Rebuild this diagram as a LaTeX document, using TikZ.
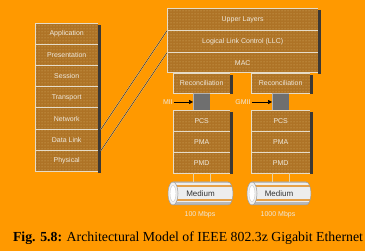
\documentclass[tikz,border=0pt]{standalone}
\usepackage{fontspec}
\setmainfont{Liberation Serif}
\newfontfamily\lblfont{Liberation Sans}
\usetikzlibrary{patterns,arrows.meta}
\definecolor{bg}{HTML}{FF9900}
\definecolor{boxb}{HTML}{AE7326}
\definecolor{dotc}{HTML}{DDB46E}
\definecolor{lbl}{HTML}{EEE8DC}
\definecolor{hl}{HTML}{E6DCC8}
\definecolor{shd}{HTML}{3C3833}
\definecolor{port}{HTML}{6F6F6F}
\definecolor{diagdark}{HTML}{4A3010}
\definecolor{diaglight}{HTML}{E8D0A0}
\definecolor{cabbase}{HTML}{EDEDED}
\definecolor{cabor}{HTML}{E5A048}
\definecolor{cabedge}{HTML}{9A9A9A}
\begin{document}
\begin{tikzpicture}[x=1pt,y=-1pt,
  layer/.style={preaction={fill=boxb}, pattern=dots, pattern color=dotc,
    inner sep=0pt, anchor=north west, font=\lblfont\fontsize{7}{8}\selectfont, text=lbl},
  portbox/.style={fill=port, inner sep=0pt, anchor=north west, minimum width=17pt, minimum height=17pt},
  hlline/.style={draw=hl, line width=0.9pt},
  shadowline/.style={draw=shd, line width=2.5pt},
  diag/.style={draw=diaglight, line width=0.35pt, double=diagdark, double distance=0.55pt},
  plbl/.style={font=\lblfont\fontsize{7}{8}\selectfont, text=lbl, inner sep=1pt},
  arr/.style={draw=black, line width=0.5pt, -{Triangle[length=4pt,width=4pt]}},
  conn/.style={draw=diaglight, line width=0.6pt},
  medtext/.style={font=\lblfont\fontsize{8}{9}\selectfont, text=black!80, inner sep=0pt},
  speed/.style={font=\lblfont\fontsize{7}{8}\selectfont, text=lbl}
]
\useasboundingbox (0,0) rectangle (365,251);
\fill[bg] (0,0) rectangle (365,251);

% OSI stack
\node[layer, minimum width=63pt, minimum height=21.2pt] (app) at (35,23) {Application};
\node[layer, minimum width=63pt, minimum height=21.2pt] (pre) at (35,44.2) {Presentation};
\node[layer, minimum width=63pt, minimum height=21.2pt] (ses) at (35,65.4) {Session};
\node[layer, minimum width=63pt, minimum height=21.2pt] (tra) at (35,86.6) {Transport};
\node[layer, minimum width=63pt, minimum height=21.2pt] (net) at (35,107.8) {Network};
\node[layer, minimum width=63pt, minimum height=21.2pt] (dl)  at (35,129) {Data Link};
\node[layer, minimum width=63pt, minimum height=21.2pt] (phy) at (35,150.2) {Physical};

% upper right stack
\node[layer, minimum width=151pt, minimum height=22.3pt] (ul)  at (167,8) {Upper Layers};
\node[layer, minimum width=151pt, minimum height=22pt]   (llc) at (167,30.3) {Logical Link Control (LLC)};
\node[layer, minimum width=151pt, minimum height=20.2pt] (mac) at (167,52.3) {MAC};

% reconciliation
\node[layer, minimum width=57pt, minimum height=20pt] (recl) at (173,73) {Reconciliation};
\node[layer, minimum width=59pt, minimum height=20pt] (recr) at (251,73) {Reconciliation};

% ports
\node[portbox] (pl) at (193,93) {};
\node[portbox] (pr) at (272,93) {};

% lower stacks
\node[layer, minimum width=57pt, minimum height=21pt] (pcsl) at (173,110) {PCS};
\node[layer, minimum width=57pt, minimum height=21pt] (pmal) at (173,131) {PMA};
\node[layer, minimum width=57pt, minimum height=21pt] (pmdl) at (173,152) {PMD};
\node[layer, minimum width=59pt, minimum height=21pt] (pcsr) at (251,110) {PCS};
\node[layer, minimum width=59pt, minimum height=21pt] (pmar) at (251,131) {PMA};
\node[layer, minimum width=59pt, minimum height=21pt] (pmdr) at (251,152) {PMD};

% highlights
\foreach \n in {app,pre,ses,tra,net,dl,phy,ul,llc,mac,recl,recr,pcsl,pmal,pmdl,pcsr,pmar,pmdr}
  \draw[hlline] (\n.south west) -- (\n.north west) -- (\n.north east);
\foreach \n in {phy,mac,recl,recr,pmdl,pmdr}
  \draw[hlline] (\n.south west) -- (\n.south east);
\foreach \n in {pl,pr}
  \draw[draw=gray!60, line width=0.6pt] (\n.south west) -- (\n.north west) -- (\n.north east);

% shadows
\draw[shadowline] ([shift={(1.25,2)}]app.north east) -- ([shift={(1.25,1)}]phy.south east);
\draw[shadowline] ([shift={(1.25,2)}]ul.north east) -- ([shift={(1.25,1)}]mac.south east);
\draw[shadowline] ([shift={(1.25,2)}]recl.north east) -- ([shift={(1.25,1)}]recl.south east);
\draw[shadowline] ([shift={(1.25,2)}]recr.north east) -- ([shift={(1.25,1)}]recr.south east);
\draw[shadowline] ([shift={(1.25,2)}]pcsl.north east) -- ([shift={(1.25,1)}]pmdl.south east);
\draw[shadowline] ([shift={(1.25,2)}]pcsr.north east) -- ([shift={(1.25,1)}]pmdr.south east);

% diagonal mapping lines
\draw[diag] (ul.south west) -- ([shift={(2.5,0)}]net.south east);
\draw[diag] (llc.south west) -- ([shift={(2.5,0)}]dl.south east);

% MII / GMII
\node[plbl, anchor=center] (mii) at (168,102) {MII};
\node[plbl, anchor=center] (gmii) at (243,102) {GMII};
\draw[arr] (mii.east) -- (pl.west |- mii.east);
\draw[arr] (gmii.east) -- (pr.west |- gmii.east);

% cables (left)
\begin{scope}
  \clip (173,182) -- (228,182) arc[start angle=90, end angle=-90, x radius=5pt, y radius=11.5pt]
        -- (173,205) arc[start angle=270, end angle=90, x radius=5pt, y radius=11.5pt] -- cycle;
  \fill[cabbase] (160,180) rectangle (240,207);
  \fill[cabedge!60] (160,180) rectangle (240,183.5);
  \fill[cabor] (160,185.5) rectangle (240,187.2);
  \fill[cabor] (160,199) rectangle (240,201.2);
  \fill[cabedge!70] (160,202.5) rectangle (240,207);
\end{scope}
\draw[cabedge, line width=0.5pt] (173,182) -- (228,182) arc[start angle=90, end angle=-90, x radius=5pt, y radius=11.5pt] -- (173,205);
\draw[cabedge, fill=gray!12, line width=0.5pt] (173,193.5) ellipse (5pt and 11.5pt);
\draw[gray!45, fill=white, line width=0.4pt] (173,193.5) ellipse (3pt and 8pt);
% cables (right)
\begin{scope}
  \clip (252,182) -- (306,182) arc[start angle=90, end angle=-90, x radius=5pt, y radius=11.5pt]
        -- (252,205) arc[start angle=270, end angle=90, x radius=5pt, y radius=11.5pt] -- cycle;
  \fill[cabbase] (240,180) rectangle (320,207);
  \fill[cabedge!60] (240,180) rectangle (320,183.5);
  \fill[cabor] (240,185.5) rectangle (320,187.2);
  \fill[cabor] (240,199) rectangle (320,201.2);
  \fill[cabedge!70] (240,202.5) rectangle (320,207);
\end{scope}
\draw[cabedge, line width=0.5pt] (252,182) -- (306,182) arc[start angle=90, end angle=-90, x radius=5pt, y radius=11.5pt] -- (252,205);
\draw[cabedge, fill=gray!12, line width=0.5pt] (252,193.5) ellipse (5pt and 11.5pt);
\draw[gray!45, fill=white, line width=0.4pt] (252,193.5) ellipse (3pt and 8pt);

\node[medtext, minimum width=65pt, minimum height=23pt] (medl) at (200.5,193.5) {Medium};
\node[medtext, minimum width=64pt, minimum height=23pt] (medr) at (279,193.5) {Medium};

% connections PMD -> medium
\draw[conn] (pmdl.south -| pl.west) -- (medl.north -| pl.west);
\draw[conn] (pmdl.south -| pl.east) -- (medl.north -| pl.east);
\draw[conn] (pmdr.south -| pr.west) -- (medr.north -| pr.west);
\draw[conn] (pmdr.south -| pr.east) -- (medr.north -| pr.east);

% speeds
\node[speed] (sl) at (200,215) {100 Mbps};
\node[speed] (sr) at (278,215) {1000 Mbps};

% caption
\node[font=\fontsize{13.8}{16}\selectfont, text=black, inner sep=0pt] (cap) at (188,238.5)
  {\textbf{Fig. 5.8:} Architectural Model of IEEE 802.3z Gigabit Ethernet};
\end{tikzpicture}
\end{document}
